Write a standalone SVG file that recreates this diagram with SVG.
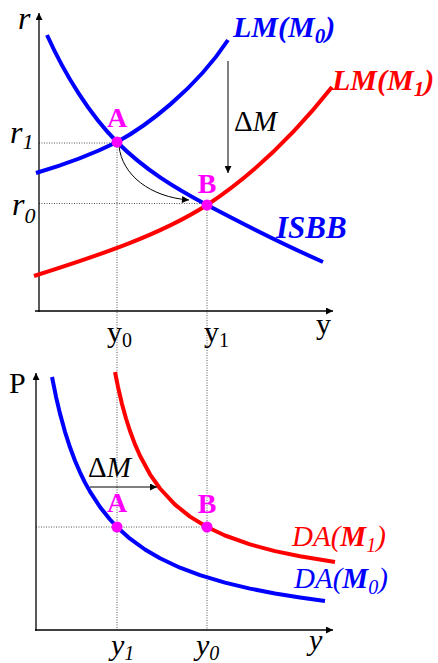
<svg xmlns="http://www.w3.org/2000/svg" width="438" height="663" viewBox="0 0 438 663">
<defs>
<marker id="ah" viewBox="0 0 10 10" refX="10" refY="5" markerWidth="9" markerHeight="7" markerUnits="userSpaceOnUse" orient="auto">
<path d="M0,0 L10,5 L0,10 Z" fill="#000"/>
</marker>
<style>
.axis{stroke:#000;stroke-width:1.3;fill:none}
.dot{stroke:#555;stroke-width:1;stroke-dasharray:1,1.5;fill:none}
.thin{stroke:#000;stroke-width:1;fill:none}
.blue{stroke:#0000FF;stroke-width:4;fill:none;stroke-linejoin:round}
.red{stroke:#FF0000;stroke-width:4;fill:none;stroke-linejoin:round}
.pt{fill:#FF00FF}
text{font-family:"Liberation Serif","Times New Roman",serif}
.bi{font-weight:bold;font-style:italic}
.it{font-style:italic}
.ptl{font-weight:bold;fill:#FF00FF;font-size:28px;text-anchor:middle}
</style>
</defs>

<g id="guides">
<path class="dot" d="M39,143 H117"/>
<path class="dot" d="M39,203.5 H207"/>
<path class="dot" d="M117,142 V630"/>
<path class="dot" d="M207,205 V630"/>
<path class="dot" d="M36,527 H207"/>
</g>

<g id="axes">
<path class="axis" d="M39,312 V13" marker-end="url(#ah)"/>
<path class="axis" d="M35,311 H333" marker-end="url(#ah)"/>
<path class="axis" d="M36,631 V373" marker-end="url(#ah)"/>
<path class="axis" d="M35,630 H333" marker-end="url(#ah)"/>
</g>

<g id="curves">
<path id="lm0" class="blue" d="M36,173 C70,163 95,153 117,142 C145,127 195,90 228,40"/>
<path id="isbb" class="blue" d="M47,35 C65,75 90,115 117,142 C145,170 175,188 207,205 C245,225 285,245 323,262"/>
<path id="lm1" class="red" d="M34,276 C100,255 160,235 207,205 C245,180 290,140 332,87"/>
<path id="da0" class="blue" d="M52,377 L56,396.7 L60,413.6 L65,431.8 L70,447.3 L75,460.7 L80,472.3 L85,482.6 L90,491.6 L100,507 L110,519.5 L117,527 L130,538.7 L145,549.5 L160,558.3 L180,567.7 L200,575.2 L225,582.6 L250,588.6 L275,593.5 L300,597.5 L325,601"/>
<path id="da1" class="red" d="M115,372 L118,386.9 L122,404 L126,418.5 L130,431 L135,444.4 L140,455.8 L150,474.3 L160,488.5 L175,504.6 L190,516.6 L207,527 L225,535.5 L250,544.4 L275,551.1 L300,556.3 L335,562"/>
</g>

<g id="connectors">
<path class="thin" d="M228,61 V173" marker-end="url(#ah)"/>
<path class="thin" d="M119,146 C122,175 150,197 189,200" marker-end="url(#ah)"/>
<path class="thin" d="M90,487 H157" marker-end="url(#ah)"/>
</g>

<g id="pointA-top"><circle class="pt" cx="117" cy="142" r="5.5"/><text class="ptl" x="117" y="127">A</text></g>
<g id="pointB-top"><circle class="pt" cx="207" cy="205" r="5.5"/><text class="ptl" x="207" y="193">B</text></g>
<g id="pointA-bot"><circle class="pt" cx="117" cy="527" r="5.5"/><text class="ptl" x="117" y="512">A</text></g>
<g id="pointB-bot"><circle class="pt" cx="207" cy="527" r="5.5"/><text class="ptl" x="207" y="513">B</text></g>

<g id="labels">
<text class="it" x="18" y="29" font-size="32">r</text>
<text class="it" x="10" y="143" font-size="32">r<tspan dy="6" font-size="22">1</tspan></text>
<text class="it" x="12" y="215" font-size="32">r<tspan dy="8" font-size="22">0</tspan></text>
<text x="107" y="342" font-size="30">y<tspan dy="5" font-size="20">0</tspan></text>
<text x="204" y="342" font-size="30">y<tspan dy="5" font-size="20">1</tspan></text>
<text x="316" y="334" font-size="30">y</text>
<text class="bi" x="233" y="37" font-size="30" fill="#0000FF">LM(M<tspan dy="6" font-size="21">0</tspan><tspan dy="-6">)</tspan></text>
<text class="bi" x="332" y="90" font-size="30" fill="#FF0000">LM(M<tspan dy="6" font-size="21">1</tspan><tspan dy="-6">)</tspan></text>
<text class="bi" x="276" y="238" font-size="31" fill="#0000FF">ISBB</text>
<text x="234" y="131" font-size="29">Δ<tspan class="it">M</tspan></text>
<text x="9" y="393" font-size="30">P</text>
<text x="88" y="477" font-size="29">Δ<tspan class="it">M</tspan></text>
<text class="it" x="292" y="546" font-size="29" fill="#FF0000">DA(<tspan class="bi">M</tspan><tspan dy="6" font-size="20">1</tspan><tspan dy="-6">)</tspan></text>
<text class="it" x="294" y="588" font-size="29" fill="#0000FF">DA(<tspan class="bi">M</tspan><tspan dy="6" font-size="20">0</tspan><tspan dy="-6">)</tspan></text>
<text class="it" x="111" y="655" font-size="30">y<tspan dy="5" font-size="20">1</tspan></text>
<text class="it" x="196" y="655" font-size="30">y<tspan dy="5" font-size="20">0</tspan></text>
<text class="it" x="309" y="650" font-size="30">y</text>
</g>
</svg>
